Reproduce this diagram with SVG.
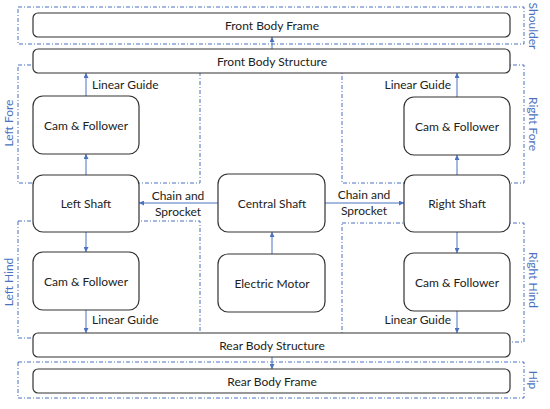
<svg xmlns="http://www.w3.org/2000/svg" width="550" height="409" viewBox="0 0 550 409">
<style>
.node{fill:#fff;stroke:#333;stroke-width:1.2}
.t{font-family:Lato,"Open Sans",sans-serif;font-size:12px;fill:#222;text-anchor:middle;dominant-baseline:central}
.lbl{font-family:Lato,"Open Sans",sans-serif;font-size:12px;fill:#222;dominant-baseline:central}
.grp{fill:none;stroke:#4a72c0;stroke-width:1;stroke-dasharray:4,2,1,2}
.gl{font-family:Lato,"Open Sans",sans-serif;font-size:12px;fill:#4a72c0;text-anchor:middle;dominant-baseline:central}
.c{fill:none;stroke:#4a72c0;stroke-width:1;marker-end:url(#ah)}
</style>
<defs>
<marker id="ah" viewBox="0 0 6 6" refX="6" refY="3" markerWidth="5" markerHeight="5" markerUnits="userSpaceOnUse" orient="auto">
<path d="M0,0 L6,3 L0,6 z" fill="#4a72c0"/>
</marker>
</defs>
<g id="groups">
<rect class="grp" x="18" y="7" width="506" height="37"/>
<rect class="grp" x="18" y="65" width="182" height="118"/>
<rect class="grp" x="342" y="65" width="182" height="118"/>
<rect class="grp" x="18" y="221" width="182" height="117"/>
<rect class="grp" x="342" y="223" width="182" height="119"/>
<rect class="grp" x="18" y="362" width="506" height="36"/>
<text class="gl" transform="translate(533,26) rotate(90)">Shoulder</text>
<text class="gl" transform="translate(533,124) rotate(90)">Right Fore</text>
<text class="gl" transform="translate(533,280) rotate(90)">Right Hind</text>
<text class="gl" transform="translate(533,380) rotate(90)">Hip</text>
<text class="gl" transform="translate(8,123) rotate(-90)">Left Fore</text>
<text class="gl" transform="translate(8,282) rotate(-90)">Left Hind</text>
</g>
<g id="connectors">
<line class="c" x1="272" y1="49" x2="272" y2="37"/>
<line class="c" x1="86" y1="96" x2="86" y2="73"/>
<line class="c" x1="86" y1="175" x2="86" y2="154"/>
<line class="c" x1="457" y1="97" x2="457" y2="73"/>
<line class="c" x1="457" y1="175" x2="457" y2="155"/>
<line class="c" x1="218" y1="203" x2="139" y2="203"/>
<line class="c" x1="325" y1="203" x2="404" y2="203"/>
<line class="c" x1="272" y1="254" x2="272" y2="232"/>
<line class="c" x1="86" y1="232" x2="86" y2="252"/>
<line class="c" x1="457" y1="232" x2="457" y2="253"/>
<line class="c" x1="86" y1="310" x2="86" y2="333"/>
<line class="c" x1="457" y1="311" x2="457" y2="333"/>
<line class="c" x1="272" y1="357" x2="272" y2="369"/>
<text class="lbl" x="92" y="84">Linear Guide</text>
<text class="lbl" x="451" y="84" text-anchor="end">Linear Guide</text>
<text class="lbl" x="92" y="319">Linear Guide</text>
<text class="lbl" x="451" y="319" text-anchor="end">Linear Guide</text>
<text class="t" x="178" y="195">Chain and</text>
<text class="t" x="178" y="211">Sprocket</text>
<text class="t" x="364" y="194">Chain and</text>
<text class="t" x="364" y="210">Sprocket</text>
</g>
<g id="front-body-frame"><rect class="node" x="33" y="13" width="477" height="24" rx="5"/><text class="t" x="272" y="25">Front Body Frame</text></g>
<g id="front-body-structure"><rect class="node" x="33" y="49" width="477" height="24" rx="5"/><text class="t" x="272" y="61">Front Body Structure</text></g>
<g id="lf-cam"><rect class="node" x="33" y="96" width="106" height="58" rx="10"/><text class="t" x="86" y="125">Cam &amp; Follower</text></g>
<g id="rf-cam"><rect class="node" x="404" y="97" width="106" height="58" rx="10"/><text class="t" x="457" y="126">Cam &amp; Follower</text></g>
<g id="left-shaft"><rect class="node" x="33" y="175" width="106" height="57" rx="10"/><text class="t" x="86" y="203">Left Shaft</text></g>
<g id="central-shaft"><rect class="node" x="218" y="174" width="107" height="58" rx="10"/><text class="t" x="272" y="203">Central Shaft</text></g>
<g id="right-shaft"><rect class="node" x="404" y="175" width="106" height="57" rx="10"/><text class="t" x="457" y="203">Right Shaft</text></g>
<g id="lh-cam"><rect class="node" x="33" y="252" width="106" height="58" rx="10"/><text class="t" x="86" y="281">Cam &amp; Follower</text></g>
<g id="electric-motor"><rect class="node" x="218" y="254" width="107" height="58" rx="10"/><text class="t" x="272" y="283">Electric Motor</text></g>
<g id="rh-cam"><rect class="node" x="404" y="253" width="106" height="58" rx="10"/><text class="t" x="457" y="282">Cam &amp; Follower</text></g>
<g id="rear-body-structure"><rect class="node" x="33" y="333" width="477" height="24" rx="5"/><text class="t" x="272" y="345">Rear Body Structure</text></g>
<g id="rear-body-frame"><rect class="node" x="33" y="369" width="477" height="24" rx="5"/><text class="t" x="272" y="381">Rear Body Frame</text></g>
</svg>
